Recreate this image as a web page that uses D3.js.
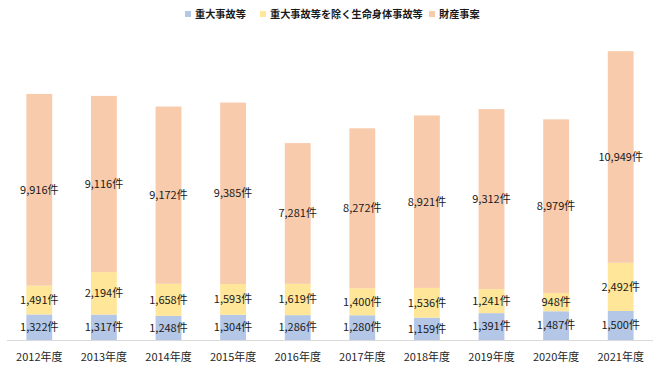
<!DOCTYPE html>
<html>
<head>
<meta charset="utf-8">
<script src="https://cdn.jsdelivr.net/npm/d3@7"></script>
<style>
  body { margin: 0; background: #fff; }
  text { font-family: "Noto Sans CJK JP", "Noto Sans", sans-serif; }
</style>
</head>
<body>
<script>
let w = 660, h = 371;

// data
let years = ["2012年度","2013年度","2014年度","2015年度","2016年度","2017年度","2018年度","2019年度","2020年度","2021年度"];
let seriesNames = ["重大事故等","重大事故等を除く生命身体事故等","財産事案"];
let serious = [1322,1317,1248,1304,1286,1280,1159,1391,1487,1500];
let bodily = [1491,2194,1658,1593,1619,1400,1536,1241,948,2492];
let property = [9916,9116,9172,9385,7281,8272,8921,9312,8979,10949];

let colors = ["#b4c7e7","#ffe699","#f8cbad"];

let rows = years.map((y,i)=>({year:y, s0:serious[i], s1:bodily[i], s2:property[i]}));
let keys = ["s0","s1","s2"];

let svg = d3.select("body").append("svg").attr("width",w).attr("height",h);

let x = d3.scaleBand()
          .domain(years)
          .range([7,653])
          .paddingInner(0.6)
          .paddingOuter(0.3);

let y = d3.scaleLinear()
          .domain([0,16000])
          .range([340,30.7]);

let stack = d3.stack().keys(keys)(rows);

// baseline
svg.append("line")
   .attr("x1",7).attr("x2",653)
   .attr("y1",y(0)+0.5).attr("y2",y(0)+0.5)
   .attr("stroke","#d9d9d9").attr("stroke-width",1);

let layers = svg.selectAll("g.layer").data(stack).join("g")
                .attr("class","layer")
                .attr("fill",(d,i)=>colors[i]);

layers.selectAll("rect").data(d=>d).join("rect")
      .attr("x",d=>x(d.data.year))
      .attr("width",x.bandwidth())
      .attr("y",d=>y(d[1]))
      .attr("height",d=>y(d[0])-y(d[1]));

// value labels
let fmt = d3.format(",");
layers.selectAll("text").data(d=>d.map(v=>({v:v, key:d.key}))).join("text")
      .attr("x",d=>x(d.v.data.year)+x.bandwidth()/2)
      .attr("y",d=>(y(d.v[0])+y(d.v[1]))/2)
      .attr("dy","0.35em")
      .attr("text-anchor","middle")
      .attr("fill","#1a1a1a")
      .attr("font-size",11)
      .text(d=>fmt(d.v.data[d.key])+"件");

// x axis
let xAxis = d3.axisBottom(x).tickSize(0).tickPadding(0);
let gx = svg.append("g").attr("transform","translate(0,"+y(0)+")").call(xAxis);
gx.select(".domain").remove();
gx.selectAll("text")
  .attr("y",17)
  .attr("dy","0.35em")
  .attr("font-size",11)
  .attr("fill","#262626")
  .style("font-family","'Noto Sans CJK JP', sans-serif");

// legend
let legendPos = [185,260,429];
let legend = svg.append("g");
seriesNames.forEach((name,i)=>{
  legend.append("rect")
        .attr("x",legendPos[i]).attr("y",11)
        .attr("width",6).attr("height",6)
        .attr("fill",colors[i]);
  legend.append("text")
        .attr("x",legendPos[i]+10).attr("y",14)
        .attr("dy","0.35em")
        .attr("font-size",10.2)
        .attr("font-weight","bold")
        .attr("fill","#1a1a1a")
        .text(name);
});
</script>
</body>
</html>
